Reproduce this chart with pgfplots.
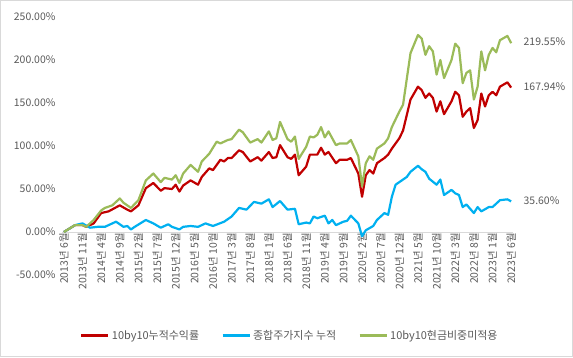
\documentclass[border=0pt]{standalone}
\usepackage{fontspec}
\setmainfont{Noto Sans CJK KR}
\usepackage{pgfplots}
\pgfplotsset{compat=1.18}
\definecolor{cred}{HTML}{C00000}
\definecolor{cblue}{HTML}{00B0F0}
\definecolor{cgreen}{HTML}{9BBB59}
\definecolor{txt}{HTML}{595959}
\definecolor{zline}{HTML}{D9D9D9}

\begin{document}
\begin{tikzpicture}[x=1bp,y=1bp]
\path[use as bounding box] (0,0) rectangle (573,357);
\draw[zline, line width=0.75bp] (0.4,0.4) rectangle (572.6,356.6);
\begin{axis}[
  at={(62bp,82bp)}, anchor=south west,
  scale only axis, width=451bp, height=258bp,
  xmin=-0.5, xmax=120.5, ymin=-50, ymax=250,
  clip mode=individual,
  axis x line=middle, axis y line=left,
  x axis line style={draw=zline, line width=0.75bp, -},
  y axis line style={draw=none},
  hide obscured x ticks=false, hide obscured y ticks=false,
  major tick length=0pt,
  xtick={0,5,...,120},
  xticklabels={2013년 6월,2013년 11월,2014년 4월,2014년 9월,2015년 2월,2015년 7월,2015년 12월,2016년 5월,2016년 10월,2017년 3월,2017년 8월,2018년 1월,2018년 6월,2018년 11월,2019년 4월,2019년 9월,2020년 2월,2020년 7월,2020년 12월,2021년 5월,2021년 10월,2022년 3월,2022년 8월,2023년 1월,2023년 6월},
  xticklabel style={rotate=90, anchor=east, font=\fontsize{10.5}{12}\selectfont, text=txt, inner sep=1bp},
  ytick={-50,0,50,100,150,200,250},
  yticklabel={\pgfmathprintnumber[fixed,fixed zerofill,precision=2,assume math mode=true]{\tick}\%},
  yticklabel style={font=\fontsize{10.5}{12}\selectfont, text=txt, xshift=-3bp},
  legend columns=3,
  legend style={at={(0.505,-0.236)}, anchor=center, draw=none, fill=none,
    font=\fontsize{11}{13}\selectfont, text=txt,
    /tikz/every even column/.append style={column sep=20bp}},
  legend image code/.code={\draw[#1, line width=3bp] (0bp,0bp) -- (27bp,0bp);},
  every axis plot/.append style={line width=2.2bp, line join=round, no markers},
]
\addplot[cred] coordinates {
(0,0)(3,8)(5,8)(6,6)(8,10)(10,22)(12,24)(15,31)(17,26)(18,24)(20,31)(22,51)(24,57)(26,48)(27,51)(29,50)(30,55)(31,47)(32,54)(34,60)(36,55)(37,64)(39,74)(40,72)(42,84)(43,82)(44,86)(45,86)(47,95)(48,93)(50,82)(52,87)(53,83)(55,93)(56,86)(57,87)(58,101)(60,87)(61,85)(62,90)(63,66)(65,76)(66,90)(68,90)(69,98)(70,90)(71,93)(73,80)(74,84)(76,84)(77,86)(79,68)(80,41)(81,66)(82,72)(83,68)(84,80)(86,86)(87,90)(88,97)(90,109)(91,118)(93,154)(95,169)(96,165)(97,156)(98,161)(99,156)(100,140)(101,152)(102,137)(104,152)(105,163)(106,159)(107,134)(108,140)(109,144)(110,121)(111,130)(112,161)(113,146)(114,159)(115,163)(116,159)(117,169)(119,174)(120,167.94)
};
\addlegendentry{10by10누적수익률}
\addplot[cblue] coordinates {
(0,0)(3,8)(5,10)(7,5)(9,6)(11,6)(14,12)(16,6)(17,7)(18,3)(19,6)(22,14)(24,10)(26,5)(28,9)(29,6)(31,3)(32,6)(34,7)(36,6)(38,10)(40,7)(43,12)(45,18)(47,28)(49,26)(51,35)(53,33)(55,38)(56,29)(58,36)(60,26)(62,27)(63,9)(65,11)(66,10)(67,18)(68,16)(70,19)(71,10)(72,14)(73,8)(75,12)(76,13)(77,19)(79,10)(80,-5)(81,2)(83,7)(84,14)(86,22)(87,20)(88,41)(89,55)(91,61)(92,64)(93,70)(95,77)(96,73)(97,70)(98,62)(100,55)(101,61)(102,43)(104,49)(105,45)(106,43)(107,29)(108,32)(110,22)(111,29)(112,24)(114,29)(115,29)(116,33)(117,37)(119,38)(120,35.6)
};
\addlegendentry{종합주가지수 누적}
\addplot[cgreen] coordinates {
(0,0)(3,8)(5,8)(6,6)(8,14)(10,25)(11,28)(13,31)(15,39)(16,34)(18,28)(20,37)(22,60)(24,68)(26,58)(27,63)(29,61)(30,66)(31,57)(32,68)(34,78)(36,70)(37,82)(39,91)(41,105)(42,103)(44,107)(45,108)(47,119)(48,116)(50,104)(52,108)(53,104)(55,117)(56,107)(57,109)(58,128)(60,108)(61,105)(62,111)(63,85)(65,99)(66,111)(67,110)(68,113)(69,122)(70,110)(71,117)(73,101)(74,103)(76,103)(77,107)(79,88)(80,53)(81,80)(82,88)(83,84)(84,97)(86,103)(87,109)(88,122)(90,140)(91,148)(93,208)(95,229)(96,225)(97,206)(98,216)(99,210)(100,183)(101,200)(102,179)(104,200)(105,219)(106,214)(107,173)(108,185)(109,188)(110,154)(111,169)(112,210)(113,188)(114,206)(115,214)(116,209)(117,223)(119,228)(120,219.55)
};
\addlegendentry{10by10현금비중미적용}
\node[anchor=west, text=txt, font=\fontsize{10.5}{12}\selectfont] at (axis cs:120,221) [xshift=9bp] {219.55\%};
\node[anchor=west, text=txt, font=\fontsize{10.5}{12}\selectfont] at (axis cs:120,169) [xshift=9bp] {167.94\%};
\node[anchor=west, text=txt, font=\fontsize{10.5}{12}\selectfont] at (axis cs:120,36) [xshift=9bp] {35.60\%};
\end{axis}
\end{tikzpicture}
\end{document}
